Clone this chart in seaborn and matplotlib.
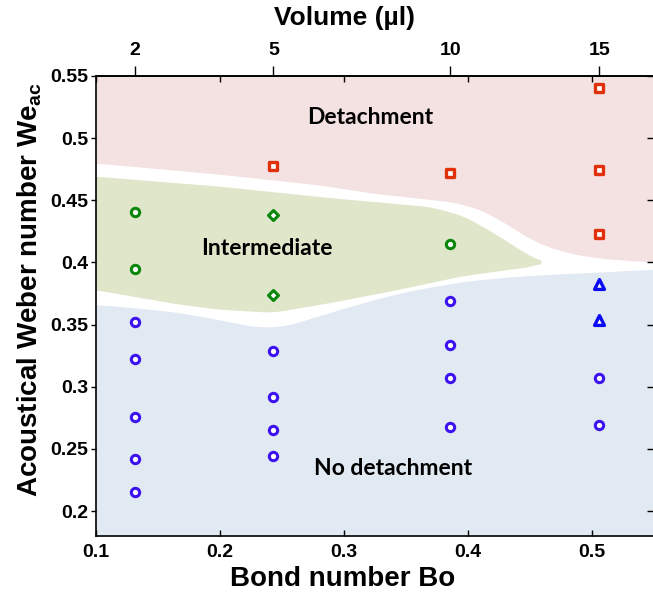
import numpy as np
import pandas as pd
import matplotlib
matplotlib.use("Agg")
import matplotlib.pyplot as plt
import seaborn as sns

sns.set_theme(style="ticks")
plt.rcParams['font.family'] = ['Liberation Sans', 'DejaVu Sans']
plt.rcParams['mathtext.fontset'] = 'custom'
plt.rcParams['mathtext.rm'] = 'Liberation Sans'
plt.rcParams['mathtext.bf'] = 'Liberation Sans:bold'
for key in ['text.color', 'axes.labelcolor', 'xtick.color', 'ytick.color',
            'axes.edgecolor']:
    plt.rcParams[key] = 'black'

# droplet volumes and their Bond numbers
volumes = [2, 5, 10, 15]
bond_numbers = [0.1315, 0.243, 0.3855, 0.5056]

# detachment (squares)
det_bo = [0.243, 0.3855, 0.5056, 0.5056, 0.5056]
det_we = [0.478, 0.472, 0.540, 0.474, 0.423]
# intermediate (circles and diamonds)
int_circ_bo = [0.1315, 0.1315, 0.3855]
int_circ_we = [0.441, 0.395, 0.415]
int_diam_bo = [0.243, 0.243]
int_diam_we = [0.438, 0.374]
# no detachment (circles and triangles)
nod_bo = [0.1315] * 5 + [0.243] * 4 + [0.3855] * 4 + [0.5056] * 2
nod_we = [0.352, 0.322, 0.276, 0.242, 0.215,
          0.329, 0.292, 0.265, 0.244,
          0.369, 0.334, 0.307, 0.268,
          0.307, 0.269]
tri_bo = [0.5056, 0.5056]
tri_we = [0.383, 0.354]

# regime boundaries
det_edge_x = [0.1, 0.2, 0.2887, 0.3153, 0.396, 0.4234, 0.450, 0.4766, 0.504, 0.549]
det_edge_y = [0.480, 0.471, 0.4614, 0.4566, 0.4478, 0.4365, 0.418, 0.4083, 0.4035, 0.4003]
int_top_x = [0.1, 0.2, 0.2887, 0.3694, 0.396, 0.4234, 0.445, 0.455, 0.459]
int_top_y = [0.469, 0.461, 0.4518, 0.4446, 0.4375, 0.422, 0.408, 0.403, 0.400]
int_bot_x = [0.1, 0.1677, 0.2, 0.2427, 0.2887, 0.3427, 0.396, 0.4363, 0.455, 0.459]
int_bot_y = [0.3777, 0.366, 0.362, 0.3595, 0.3673, 0.3777, 0.389, 0.3945, 0.397, 0.400]
nod_edge_x = [0.1, 0.1677, 0.2427, 0.2887, 0.3427, 0.396, 0.450, 0.504, 0.549]
nod_edge_y = [0.3665, 0.360, 0.3455, 0.360, 0.3753, 0.385, 0.3898, 0.3922, 0.3946]

XMIN, XMAX, YMIN, YMAX = 0.1, 0.549, 0.18, 0.55


def smooth_edge(xs, ys, n=400, win=31):
    gx = np.linspace(xs[0], xs[-1], n)
    gy = np.interp(gx, xs, ys)
    pad = win // 2
    padded = np.concatenate([np.full(pad, gy[0]), gy, np.full(pad, gy[-1])])
    sy = np.convolve(padded, np.ones(win) / win, mode='valid')
    return gx, sy


fig = plt.figure(figsize=(6.53, 5.97), dpi=100)
ax = fig.add_axes([96 / 653, 1 - 536 / 597, 557 / 653, 460 / 597])
ax.set_facecolor('white')

pink = '#f4e1e1'
green = '#dfe6c9'
blue = '#e1e9f3'
dx, dy = smooth_edge(det_edge_x, det_edge_y)
ax.fill_between(dx, dy, YMAX, color=pink, lw=0, zorder=0)
tx, ty = smooth_edge(int_top_x, int_top_y, win=21)
bx, by = smooth_edge(int_bot_x, int_bot_y, win=21)
ax.fill(np.concatenate([tx, bx[::-1]]), np.concatenate([ty, by[::-1]]),
        color=green, lw=0, zorder=0)
nx, ny = smooth_edge(nod_edge_x, nod_edge_y, win=41)
ax.fill_between(nx, YMIN, ny, color=blue, lw=0, zorder=0)

red_c = '#e0300c'
green_c = '#0a870a'
violet_c = '#3d12f0'
blue_c = '#0a0af5'


def markers(x, y, marker, color, s, lw=2.2):
    sns.scatterplot(x=x, y=y, marker=marker, s=s, color='white',
                    edgecolor=color, linewidth=lw, ax=ax, zorder=3, legend=False)


markers(det_bo, det_we, 's', red_c, 28, 2.4)
markers(int_circ_bo, int_circ_we, 'o', green_c, 36)
markers(int_diam_bo, int_diam_we, 'D', green_c, 26)
markers(nod_bo, nod_we, 'o', violet_c, 36)
markers(tri_bo, tri_we, '^', blue_c, 50, 2.4)

lab_font = dict(family=['Lato', 'DejaVu Sans'], fontweight='bold', fontsize=16.5,
                ha='center', va='center', color='black')
ax.text(0.321, 0.517, 'Detachment', **lab_font)
ax.text(0.238, 0.411, 'Intermediate', **lab_font)
ax.text(0.3395, 0.2345, 'No detachment', **lab_font)

ax.set_xlim(XMIN, XMAX)
ax.set_ylim(YMIN, YMAX)
ax.set_xticks([0.1, 0.2, 0.3, 0.4, 0.5])
ax.set_xticklabels(['0.1', '0.2', '0.3', '0.4', '0.5'])
ax.set_yticks([0.2, 0.25, 0.3, 0.35, 0.4, 0.45, 0.5, 0.55])
ax.set_yticklabels(['0.2', '0.25', '0.3', '0.35', '0.4', '0.45', '0.5', '0.55'])
ax.tick_params(axis='x', direction='in', top=True, bottom=True, length=4.5,
               width=1, labelsize=14, pad=6, color='black')
ax.tick_params(axis='y', direction='out', left=True, length=3.5, width=1,
               labelsize=14, pad=2, color='black')
for lab in ax.get_xticklabels() + ax.get_yticklabels():
    lab.set_fontweight('bold')

for side in ['left', 'bottom', 'top']:
    ax.spines[side].set_color('black')
    ax.spines[side].set_linewidth(1.2)
ax.spines['right'].set_visible(False)

ax.set_xlabel('Bond number Bo', fontsize=20, fontweight='bold')
ax.xaxis.set_label_coords((343 - 96) / 557, -(579 - 536) / 460)
ax.xaxis.label.set_va('center')
ax.set_ylabel('Acoustical Weber number We$_{\\mathbf{ac}}$', fontsize=20,
              fontweight='bold')
ax.yaxis.set_label_coords(-(96 - 30) / 557, (536 - 290) / 460)
ax.yaxis.label.set_va('center')

# right-hand inward ticks
rax = ax.secondary_yaxis('right')
rax.set_yticks([0.2, 0.25, 0.3, 0.35, 0.4, 0.45, 0.5, 0.55])
rax.tick_params(direction='in', length=4, width=1, labelright=False, color='black')
rax.spines['right'].set_visible(False)

# top axis: droplet volume
tax = ax.secondary_xaxis('top')
tax.set_xticks(bond_numbers)
tax.set_xticklabels([str(v) for v in volumes])
tax.tick_params(direction='out', length=7, width=1, labelsize=14, pad=5, color='black')
for lab in tax.get_xticklabels():
    lab.set_fontweight('bold')
tax.spines['top'].set_linewidth(1.2)
fig.text(344 / 653, 1 - 18 / 597, 'Volume (µl)', fontsize=19, fontweight='bold',
         ha='center', va='center')

fig.savefig('out.png', dpi=100)
